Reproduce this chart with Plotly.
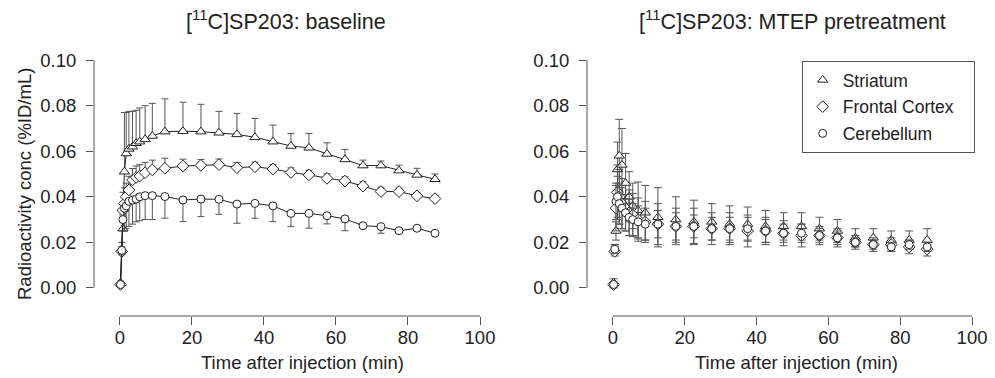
import plotly.graph_objects as go

# ---- data ----
time_min = [0.17, 0.5, 0.83, 1.25, 1.75, 2.5, 3.5, 4.5, 5.5, 7, 9, 12.5, 17.5, 22.5, 27.5,
            32.5, 37.5, 42.5, 47.5, 52.5, 57.5, 62.5, 67.5, 72.5, 77.5, 82.5, 87.5]

# baseline (left panel)
base_striatum = [0.002, 0.017, 0.026, 0.051, 0.059, 0.061, 0.062, 0.0635, 0.0642, 0.0652, 0.0667,
                 0.0686, 0.0688, 0.0686, 0.0681, 0.0674, 0.0661, 0.0642, 0.0623, 0.0615, 0.0588,
                 0.0564, 0.0537, 0.0537, 0.0515, 0.0496, 0.0477]
base_striatum_sd = [0.001, 0.003, 0.006, 0.026, 0.018, 0.0165, 0.0155, 0.0145, 0.0148, 0.0148, 0.0143,
                    0.0144, 0.0127, 0.012, 0.0094, 0.0092, 0.0083, 0.0073, 0.0055, 0.0063, 0.0049,
                    0.0044, 0.0024, 0.002, 0.0024, 0.0029, 0.0023]
base_frontal = [0.0015, 0.016, 0.034, 0.037, 0.040, 0.043, 0.0474, 0.0485, 0.0491, 0.0506, 0.0518,
                0.0525, 0.0535, 0.0538, 0.0541, 0.0528, 0.0532, 0.0522, 0.0507, 0.0496, 0.0481,
                0.0469, 0.0447, 0.0423, 0.0423, 0.0404, 0.0392]
base_frontal_sd = [0.001, 0.002, 0.008, 0.007, 0.006, 0.006, 0.005, 0.005, 0.005, 0.0045, 0.0043,
                   0.0044, 0.003, 0.0026, 0.0025, 0.0022, 0.002, 0.002, 0.002, 0.002, 0.002,
                   0.0019, 0.002, 0.0019, 0.0015, 0.0015, 0.0012]
base_cerebellum = [0.0015, 0.0165, 0.030, 0.035, 0.036, 0.038, 0.0385, 0.039, 0.040, 0.0405, 0.0405,
                   0.0401, 0.0386, 0.0390, 0.0389, 0.0368, 0.0371, 0.0360, 0.0327, 0.0327, 0.0317,
                   0.0303, 0.0273, 0.0269, 0.0251, 0.0262, 0.0240]
base_cerebellum_sd = [0.001, 0.002, 0.005, 0.010, 0.010, 0.011, 0.0105, 0.010, 0.0105, 0.0105, 0.0105,
                      0.0095, 0.0095, 0.0077, 0.0066, 0.0084, 0.0065, 0.0069, 0.0058, 0.0065, 0.0036,
                      0.0052, 0.0010, 0.0029, 0.0010, 0.0010, 0.0005]

# MTEP pretreatment (right panel)
mtep_striatum = [0.002, 0.017, 0.025, 0.052, 0.058, 0.054, 0.046, 0.040, 0.036, 0.034, 0.033,
                 0.031, 0.030, 0.029, 0.029, 0.028, 0.028, 0.027, 0.027, 0.027, 0.026,
                 0.025, 0.022, 0.022, 0.021, 0.021, 0.021]
mtep_striatum_sd = [0.002, 0.002, 0.004, 0.012, 0.016, 0.016, 0.013, 0.011, 0.010, 0.0125, 0.012,
                    0.013, 0.010, 0.0095, 0.008, 0.008, 0.0075, 0.007, 0.006, 0.006, 0.005,
                    0.005, 0.004, 0.004, 0.004, 0.004, 0.005]
mtep_frontal = [0.0015, 0.016, 0.035, 0.042, 0.040, 0.037, 0.035, 0.033, 0.032, 0.030, 0.029,
                0.028, 0.027, 0.027, 0.026, 0.026, 0.025, 0.025, 0.024, 0.023, 0.023,
                0.022, 0.020, 0.019, 0.019, 0.018, 0.017]
mtep_frontal_sd = [0.001, 0.002, 0.010, 0.012, 0.012, 0.011, 0.010, 0.010, 0.0095, 0.0095, 0.009,
                   0.009, 0.008, 0.008, 0.007, 0.007, 0.007, 0.006, 0.0055, 0.005, 0.004,
                   0.004, 0.003, 0.003, 0.003, 0.003, 0.003]
mtep_cerebellum = [0.0015, 0.017, 0.038, 0.040, 0.037, 0.035, 0.033, 0.031, 0.030, 0.029, 0.028,
                   0.028, 0.027, 0.027, 0.026, 0.026, 0.026, 0.025, 0.024, 0.024, 0.023,
                   0.022, 0.020, 0.019, 0.018, 0.019, 0.018]
mtep_cerebellum_sd = [0.001, 0.002, 0.008, 0.009, 0.009, 0.009, 0.008, 0.008, 0.007, 0.007, 0.007,
                      0.006, 0.006, 0.005, 0.005, 0.005, 0.005, 0.005, 0.004, 0.004, 0.003,
                      0.003, 0.002, 0.002, 0.002, 0.002, 0.002]

region_names = ["Striatum", "Frontal Cortex", "Cerebellum"]
region_symbols = ["triangle-up", "diamond", "circle"]
x_ticks = [0, 20, 40, 60, 80, 100]
y_ticks = [0.0, 0.02, 0.04, 0.06, 0.08, 0.10]
y_ticktext = ["0.00", "0.02", "0.04", "0.06", "0.08", "0.10"]
titles = ["[<sup>11</sup>C]SP203: baseline", "[<sup>11</sup>C]SP203: MTEP pretreatment"]
x_title = "Time after injection (min)"
y_title = "Radioactivity conc (%ID/mL)"

# ---- style ----
FONT = "Liberation Sans, Arial, Helvetica, sans-serif"
INK = "#222222"
AXIS = "#555555"
ERR = "#555555"
sizes = [9, 9, 8]
NBSP = "\u00a0"

fig = go.Figure()

base_vals = [base_striatum, base_frontal, base_cerebellum]
base_sds = [base_striatum_sd, base_frontal_sd, base_cerebellum_sd]
zeros = [0.0] * len(time_min)
for i in range(3):
    up = base_sds[i] if i < 2 else zeros
    down = zeros if i < 2 else base_sds[i]
    fig.add_trace(go.Scatter(
        x=time_min, y=base_vals[i], mode="lines+markers", name=region_names[i],
        showlegend=False, xaxis="x", yaxis="y",
        line=dict(color=INK, width=1),
        marker=dict(symbol=region_symbols[i], size=sizes[i],
                    color="white", line=dict(color=INK, width=1)),
        error_y=dict(type="data", symmetric=False, array=up, arrayminus=down,
                     color=ERR, thickness=1, width=3.5),
    ))

mtep_vals = [mtep_striatum, mtep_frontal, mtep_cerebellum]
mtep_sds = [mtep_striatum_sd, mtep_frontal_sd, mtep_cerebellum_sd]
for i in range(3):
    legend_name = region_names[i] + (NBSP * 3 if i == 1 else "")
    fig.add_trace(go.Scatter(
        x=time_min, y=mtep_vals[i], mode="markers", name=legend_name,
        showlegend=True, legendgroup=region_names[i], xaxis="x2", yaxis="y2",
        marker=dict(symbol=region_symbols[i], size=sizes[i],
                    color="white", line=dict(color=INK, width=1)),
        error_y=dict(type="data", array=mtep_sds[i], color=ERR, thickness=1, width=4),
    ))

W, H = 995, 378
ydom = [(H - 316) / H, (H - 51) / H]
common_x = dict(showline=False, showgrid=False, zeroline=False, ticks="outside", ticklen=8,
                tickcolor=AXIS, tickwidth=1, tickvals=x_ticks, ticklabelstandoff=-3,
                automargin=False,
                tickfont=dict(family=FONT, size=18.5, color=INK))
common_y = dict(showline=False, showgrid=False, zeroline=False, ticks="outside", ticklen=7,
                tickcolor=AXIS, tickwidth=1, tickvals=y_ticks, ticktext=y_ticktext,
                ticklabelstandoff=6, range=[-0.01233, 0.104], domain=ydom,
                automargin=False,
                tickfont=dict(family=FONT, size=18.5, color=INK))

fig.update_layout(
    width=W, height=H, margin=dict(l=0, r=0, t=0, b=0, autoexpand=False),
    paper_bgcolor="white", plot_bgcolor="white",
    font=dict(family=FONT, size=18, color=INK),
    xaxis=dict(domain=[94 / W, 494.4 / W], range=[-7.2, 104], anchor="y", **common_x),
    yaxis=dict(anchor="x", **common_y),
    xaxis2=dict(domain=[587 / W, 986.4 / W], range=[-7.24, 104], anchor="y2", **common_x),
    yaxis2=dict(anchor="x2", **common_y),
    legend=dict(x=801.7 / W, y=(H - 61) / H, xanchor="left", yanchor="top",
                bordercolor=AXIS, borderwidth=1, bgcolor="white",
                font=dict(family=FONT, size=17.5, color=INK),
                traceorder="grouped", tracegroupgap=1),
    showlegend=True,
)

shapes = []
for xa, ya in [("x", "y"), ("x2", "y2")]:
    shapes.append(dict(type="line", xref=xa, yref=ya + " domain", x0=0, x1=100, y0=0, y1=0,
                       line=dict(color=AXIS, width=1)))
    shapes.append(dict(type="line", xref=xa + " domain", yref=ya, x0=0, x1=0, y0=0, y1=0.1,
                       line=dict(color=AXIS, width=1)))
fig.update_layout(shapes=shapes)

annotations = []
title_centers = [286, 792]
xtitle_centers = [302, 796]
for k in range(2):
    annotations.append(dict(text=titles[k], x=title_centers[k] / W, y=(H - 20) / H,
                            xref="paper", yref="paper", showarrow=False,
                            xanchor="center", yanchor="middle",
                            font=dict(family=FONT, size=21.5, color=INK)))
    annotations.append(dict(text=x_title, x=xtitle_centers[k] / W, y=(H - 362) / H,
                            xref="paper", yref="paper", showarrow=False,
                            xanchor="center", yanchor="middle",
                            font=dict(family=FONT, size=18.5, color=INK)))
annotations.append(dict(text=y_title, x=24 / W, y=(H - 184) / H, xref="paper", yref="paper",
                        showarrow=False, textangle=-90, xanchor="center", yanchor="middle",
                        font=dict(family=FONT, size=18.5, color=INK)))
fig.update_layout(annotations=annotations)

fig.write_html("out.html", config={"displayModeBar": False},
               post_script="document.body.style.margin='0';document.body.style.padding='0';"
                           "document.body.style.overflow='hidden';")
